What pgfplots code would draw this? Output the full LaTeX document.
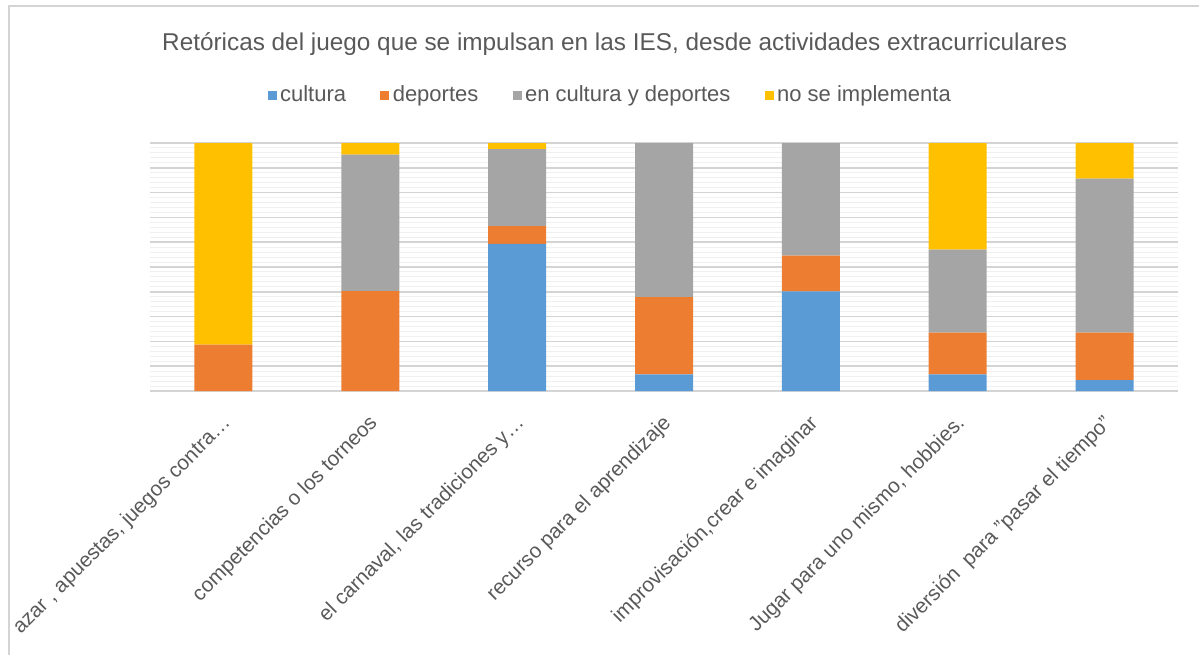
\documentclass[border=0pt]{standalone}
\usepackage{fontspec}
\setmainfont{Liberation Sans}
\usepackage{pgfplots}
\pgfplotsset{compat=1.18}
\definecolor{cblue}{HTML}{5B9BD5}
\definecolor{corange}{HTML}{ED7D31}
\definecolor{cgray}{HTML}{A5A5A5}
\definecolor{cyellow}{HTML}{FFC000}
\definecolor{txt}{HTML}{595959}
\definecolor{gridmaj}{HTML}{D4D4D4}
\definecolor{gridmin}{HTML}{F0F0F0}
\newlength\px \setlength\px{0.6pt}
\begin{document}
\begin{tikzpicture}
\useasboundingbox (0,0) rectangle (1199\px,654\px);
\draw[gridmaj, line width=1.5\px] (9\px,-10\px) rectangle (1210\px,648\px);
\begin{axis}[
 at={(150\px,263\px)}, anchor=south west,
 scale only axis, width=1028\px, height=248\px,
 ybar stacked, bar width=58\px,
 xmin=-0.5, xmax=6.5, ymin=0, ymax=100,
 xtick={0,...,6},
 xticklabels={{azar , apuestas, juegos contra…},{competencias o los torneos},{el carnaval, las tradiciones y…},{recurso para el aprendizaje},{improvisación,crear e imaginar},{Jugar para uno mismo, hobbies.},{diversión\ \ para "pasar el tiempo"}},
 ytick={0,10,20,30,40,50,60,70,80,90,100}, yticklabels={},
 minor ytick={2,4,6,8,12,14,16,18,22,24,26,28,32,34,36,38,42,44,46,48,52,54,56,58,62,64,66,68,72,74,76,78,82,84,86,88,92,94,96,98},
 ymajorgrids, yminorgrids,
 major grid style={gridmaj, line width=1.6\px},
 minor grid style={gridmin, line width=1\px},
 tick style={draw=none},
 axis lines*=left,
 x axis line style={gridmaj, line width=1.6\px, -},
 y axis line style={draw=none},
 xticklabel style={rotate=45, anchor=north east, xshift=-16\px, yshift=-12\px, font=\fontsize{12.4}{15}\selectfont, text=txt, inner sep=1pt},
 title={Retóricas del juego que se impulsan en las IES, desde actividades extracurriculares},
 title style={at={(0.452,1.359)}, anchor=center, font=\fontsize{14.6}{17}\selectfont, text=txt},
 legend columns=4,
 legend style={at={(0.4484,1.1935)}, anchor=center, draw=none, font=\fontsize{13.2}{15}\selectfont, text=txt,
   /tikz/every even column/.append style={column sep=31\px},
   /tikz/every odd column/.append style={column sep=0\px}},
 legend image code/.code={\fill[#1] (0,-4.5\px) rectangle (9\px,4.5\px);},
]
\addplot[fill=cblue, draw=none] coordinates {(0,0) (1,0) (2,59.3) (3,6.7) (4,40.2) (5,6.7) (6,4.4)};
\addplot[fill=corange, draw=none] coordinates {(0,18.75) (1,40.3) (2,7.2) (3,31.2) (4,14.4) (5,16.8) (6,19.1)};
\addplot[fill=cgray, draw=none] coordinates {(0,0) (1,55) (2,31) (3,62.1) (4,45.4) (5,33.5) (6,62.1)};
\addplot[fill=cyellow, draw=none] coordinates {(0,81.25) (1,4.7) (2,2.5) (3,0) (4,0) (5,43.0) (6,14.4)};
\legend{cultura, deportes, en cultura y deportes, no se implementa}
\end{axis}
\end{tikzpicture}
\end{document}
